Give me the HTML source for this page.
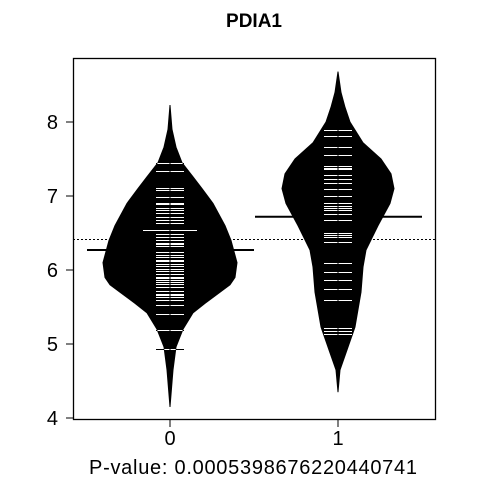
<!DOCTYPE html>
<html><head><meta charset="utf-8"><style>
body{margin:0;background:#fff}
svg text{font-family:"Liberation Sans",Arial,sans-serif}
</style></head><body>
<svg id="c" width="480" height="480" xmlns="http://www.w3.org/2000/svg">
<defs id="defs"></defs>
<text x="254" y="27" font-size="19" font-weight="bold" text-anchor="middle">PDIA1</text>
<g id="plot"></g>
<rect x="73.5" y="58.5" width="362" height="361" fill="none" stroke="#000" stroke-width="1.3"/>
<g id="axes"></g>
<text x="253" y="474" font-size="20" text-anchor="middle" textLength="328">P-value: 0.0005398676220440741</text>
</svg>
<script>
const categories=["0","1"];
const yTicks=[4,5,6,7,8];
const profileVals0=[8.23,7.9,7.66,7.45,7.26,7.1,6.9,6.6,6.4,6.1,5.9,5.8,5.7,5.55,5.42,5.2,4.96,4.65,4.4,4.15];
const profileWid0=[0,2,6,12,23,32,43,55,61,67,65,60,50,35,23,13,6,3,1.5,0];
const profileVals1=[8.68,8.4,8.2,8.0,7.72,7.5,7.3,7.1,6.9,6.6,6.27,6.04,5.7,5.23,4.88,4.65,4.35];
const profileWid1=[0,3,7,12,25,43,53,56,52,40,28,25,23,17,8,2,0];
const points0=[7.44,7.34,7.11,7.08,6.98,6.91,6.89,6.84,6.81,6.77,6.71,6.67,6.64,6.48,6.45,6.41,6.37,6.35,6.32,6.25,6.20,6.18,6.14,6.12,6.08,6.05,6.01,5.98,5.95,5.91,5.89,5.86,5.84,5.81,5.77,5.71,5.68,5.66,5.63,5.59,5.53,5.40,5.19,4.93];
const points1=[7.89,7.81,7.66,7.56,7.41,7.38,7.36,7.28,7.23,7.17,7.09,7.00,6.91,6.86,6.84,6.81,6.76,6.68,6.50,6.47,6.44,6.38,6.10,5.97,5.87,5.75,5.60,5.60,5.21,5.18,5.14];
const widePoints=[[6.54],[]];
const means=[6.27,6.72];
const overallMean=6.42;

const NS="http://www.w3.org/2000/svg";
const y=v=>418-74*(v-4);
const yr=v=>Math.round(y(v))+0.5;
const x=i=>170+168*i;
function mk(t,a,p){const e=document.createElementNS(NS,t);for(const k in a)e.setAttribute(k,a[k]);p.appendChild(e);return e;}
const plot=document.getElementById('plot'),axes=document.getElementById('axes'),defs=document.getElementById('defs');
const profV=[profileVals0,profileVals1],profW=[profileWid0,profileWid1],pts=[points0,points1];
categories.forEach((c,i)=>{
  const cx=x(i),V=profV[i],W=profW[i];
  let d=V.map((v,k)=>(k?'L':'M')+(cx+W[k])+','+y(v)).join('');
  for(let k=V.length-1;k>=0;k--)d+='L'+(cx-W[k])+','+y(V[k]);
  d+='Z';
  const cp=mk('clipPath',{id:'cp'+i},defs);mk('path',{d:d},cp);
  const bean=mk('path',{d:d,fill:'#000',stroke:'#000','stroke-width':1},plot);
  
  
  const g=mk('g',{'shape-rendering':'crispEdges'},plot);
  
  
  const gw=mk('g',{'clip-path':'url(#cp'+i+')','shape-rendering':'crispEdges'},plot);
  pts[i].forEach(v=>{
    mk('line',{x1:cx-14,x2:cx+14,y1:yr(v),y2:yr(v),stroke:'#000','stroke-width':1},g);
    mk('line',{x1:cx-14,x2:cx+14,y1:yr(v),y2:yr(v),stroke:'#fff','stroke-width':1},gw);
  });
  widePoints[i].forEach(v=>{
    mk('line',{x1:cx-27,x2:cx+27,y1:yr(v),y2:yr(v),stroke:'#000','stroke-width':1},g);
    mk('line',{x1:cx-27,x2:cx+27,y1:yr(v),y2:yr(v),stroke:'#fff','stroke-width':1},gw);
  });
  const m=mk('line',{x1:cx-83,x2:cx+84,y1:y(means[i]),y2:y(means[i]),stroke:'#000','stroke-width':2},plot);
  
  
  mk('line',{x1:cx,x2:cx,y1:y(V[0]),y2:y(V[V.length-1]),stroke:'#000','stroke-width':1},plot);
  mk('line',{x1:cx,x2:cx,y1:420,y2:427,stroke:'#000','stroke-width':1},axes);
  const t=mk('text',{x:cx,y:445,'font-size':20,'text-anchor':'middle'},axes);
  t.textContent=c;
  
  
});
const ol=mk('line',{x1:73,x2:435,y1:yr(overallMean),y2:yr(overallMean),stroke:'#000','stroke-width':1,'stroke-dasharray':'2,2'},plot);


yTicks.forEach(v=>{
  mk('line',{x1:66,x2:73,y1:y(v),y2:y(v),stroke:'#000','stroke-width':1},axes);
  const t=mk('text',{x:58,y:y(v)+7,'font-size':20,'text-anchor':'end'},axes);
  t.textContent=v;
  
  
});
</script>
</body></html>
